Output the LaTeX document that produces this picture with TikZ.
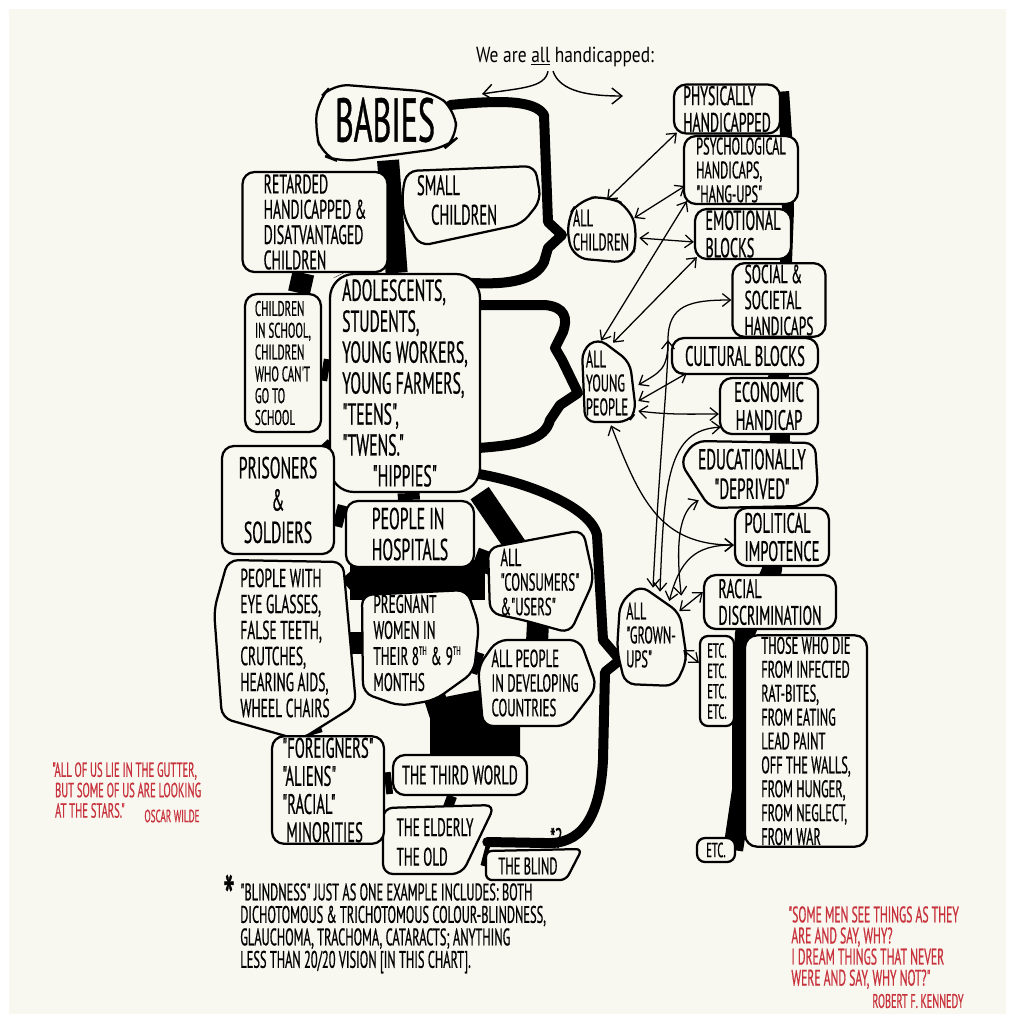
\documentclass[tikz,border=0pt]{standalone}
\usepackage{fontspec}
\setmainfont{PT Sans}
\newfontfamily\hand[FakeStretch=0.52,FakeBold=0.6]{PT Sans}
\newfontfamily\titlefont[FakeStretch=0.8]{PT Sans}
\usetikzlibrary{arrows.meta,calc}
\pgfdeclarelayer{bg}
\pgfdeclarelayer{trunklayer}
\pgfdeclarelayer{outl}
\pgfsetlayers{bg,trunklayer,outl,main}
\definecolor{cream}{RGB}{248,248,240}
\definecolor{quotered}{RGB}{200,50,60}
\newcommand\thsup{\raisebox{0.4em}{\fontsize{8.5}{8.5}\selectfont TH}}
\tikzset{
  cbox/.style={draw, line width=1.6pt, fill=cream, rounded corners=3mm, inner sep=1pt, align=left},
  tbox/.style={inner sep=1pt, align=left},
  outline/.style={draw, line width=1.6pt, fill=cream, rounded corners=2.5mm},
  sz/.style 2 args={minimum width=#1*0.25mm, minimum height=#2*0.25mm},
  fs/.style 2 args={font=\hand\fontsize{#1}{#2}\selectfont},
  trunkline/.style={line width=5.5mm, black},
  bracestyle/.style={line width=2.5mm, line join=round, line cap=round},
  spine/.style={line width=5mm, line join=round},
  arr/.style={line width=0.9pt, <->, >={Straight Barb[length=2mm,width=3.2mm]}},
  qt/.style={text=quotered, align=left, inner sep=0pt},
}
\begin{document}
\begin{tikzpicture}[x=0.25mm,y=-0.25mm]
\useasboundingbox (0,0) rectangle (1015,1023);
\begin{pgfonlayer}{bg}
  \fill[white] (0,0) rectangle (1015,1023);
  \fill[cream] (9,9) rectangle (1006,1014);
\end{pgfonlayer}

% title
\node[font=\titlefont\fontsize{15.5}{15.5}\selectfont, inner sep=0pt] (title) at (565,57) {We are \underline{all} handicapped:};
\coordinate (tl) at (482,94);
\coordinate (tr) at (623,96);
\draw[line width=1pt,-{Straight Barb[length=2.5mm,width=4mm]}] ($(title.south)+(-17,4)$) .. controls (545,88) and (520,88) .. (tl);
\draw[line width=1pt,-{Straight Barb[length=2.5mm,width=4mm]}] ($(title.south)+(-12,4)$) .. controls (560,92) and (590,96) .. (tr);

% left column
\node[tbox,sz={140}{80},fs={44}{44}] (babies) at (385,120) {BABIES};
\node[cbox,sz={145}{100},fs={19}{18}] (retarded) at (315,222) {RETARDED\\HANDICAPPED \&\\DISATVANTAGED\\CHILDREN};
\node[tbox,sz={110}{60},fs={20}{21}] (small) at (457,200) {SMALL\\\hspace{0.5em}CHILDREN};
\node[cbox,sz={76}{138},fs={15}{15.5}] (school) at (283,363) {CHILDREN\\IN SCHOOL,\\CHILDREN\\WHO CAN'T\\GO TO\\SCHOOL};
\node[cbox,sz={150}{218},fs={21.5}{22},rounded corners=6mm] (adolescents) at (405,383) {ADOLESCENTS,\\STUDENTS,\\YOUNG WORKERS,\\YOUNG FARMERS,\\"TEENS",\\"TWENS."\\\quad"HIPPIES"};
\node[cbox,sz={112}{108},fs={21.5}{23},align=center] (prisoners) at (278,500) {PRISONERS\\\&\\SOLDIERS};
\node[cbox,sz={128}{66},fs={21.5}{22}] (hospitals) at (410,534) {PEOPLE IN\\HOSPITALS};
\node[tbox,sz={96}{70},fs={17.5}{17.5}] (consumers) at (540,582) {ALL\\"CONSUMERS"\\\&"USERS"};
\node[tbox,sz={126}{150},fs={18.5}{18.5}] (eyeglasses) at (285,643) {PEOPLE WITH\\EYE GLASSES,\\FALSE TEETH,\\CRUTCHES,\\HEARING AIDS,\\WHEEL CHAIRS};
\node[tbox,sz={104}{96},fs={18}{18.5}] (pregnant) at (417,643) {PREGNANT\\WOMEN IN\\THEIR 8\thsup\,\&\,9\thsup\\MONTHS};
\node[tbox,sz={108}{70},fs={17.5}{17.5}] (developing) at (535,683) {ALL PEOPLE\\IN DEVELOPING\\COUNTRIES};
\node[cbox,sz={112}{104},fs={20}{20}] (foreigners) at (328,790) {"FOREIGNERS"\\"ALIENS"\\"RACIAL"\\\ MINORITIES};
\node[cbox,sz={134}{40},fs={19}{19}] (thirdworld) at (460,775) {THE THIRD WORLD};
\node[tbox,sz={96}{60},fs={18}{21}] (elderly) at (435,842) {THE ELDERLY\\THE OLD};
\node[tbox,sz={80}{22},fs={17}{17}] (blind) at (528,866) {THE BLIND};
\node[fs={20}{20},inner sep=0pt] (blindmark) at (556,838) {*?};

% right column
\node[tbox,sz={70}{64},fs={17}{17}] (allchildren) at (601,230) {ALL\\CHILDREN};
\node[cbox,sz={106}{48},fs={19}{19}] (physically) at (727,109) {PHYSICALLY\\HANDICAPPED};
\node[cbox,sz={114}{66},fs={17}{17}] (psych) at (741,170) {PSYCHOLOGICAL\\HANDICAPS,\\"HANG-UPS"};
\node[cbox,sz={96}{48},fs={19.5}{19.5}] (emotional) at (743,234) {EMOTIONAL\\BLOCKS};
\node[cbox,sz={93}{72},fs={18.5}{18.5}] (social) at (779,300) {SOCIAL \&\\SOCIETAL\\HANDICAPS};
\node[cbox,sz={146}{36},fs={20}{20}] (cultural) at (745,356) {CULTURAL BLOCKS};
\node[tbox,sz={52}{76},fs={17}{17}] (young) at (607,383) {ALL\\YOUNG\\PEOPLE};
\node[cbox,sz={98}{56},fs={20}{20},align=center] (economic) at (769,406) {ECONOMIC\\HANDICAP};
\node[tbox,sz={130}{60},fs={20.5}{21},align=center] (educational) at (752,474) {EDUCATIONALLY\\"DEPRIVED"};
\node[cbox,sz={94}{58},fs={20}{20}] (political) at (782,537) {POLITICAL\\IMPOTENCE};
\node[cbox,sz={132}{54},fs={19}{19}] (racial) at (770,602) {RACIAL\\DISCRIMINATION};
\node[tbox,sz={64}{90},fs={17}{17}] (grownups) at (651,635) {ALL\\"GROWN-\\UPS"};
\node[cbox,sz={34}{90},fs={14.5}{14.5},rounded corners=2mm] (etcfour) at (717,681) {ETC.\\ETC.\\ETC.\\ETC.};
\node[cbox,sz={122}{206},fs={17}{17}] (die) at (806,741) {THOSE WHO DIE\\FROM INFECTED\\RAT-BITES,\\FROM EATING\\LEAD PAINT\\OFF THE WALLS,\\FROM HUNGER,\\FROM NEGLECT,\\FROM WAR};
\node[cbox,sz={38}{24},fs={14.5}{14.5},rounded corners=2mm] (etc) at (716,850) {ETC.};

% quotes and footnote
\node[qt,fs={14.5}{14.5},anchor=north west] (wilde) at (52,762) {"ALL OF US LIE IN THE GUTTER,\\\ BUT SOME OF US ARE LOOKING\\\ AT THE STARS."};
\node[qt,fs={12.5}{12.5}] (wildename) at (172,816) {OSCAR WILDE};
\node[qt,fs={16}{15},anchor=north west] (kennedy) at (788,906) {"SOME MEN SEE THINGS AS THEY\\\ ARE AND SAY, WHY?\\\ I DREAM THINGS THAT NEVER\\\ WERE AND SAY, WHY NOT?"};
\node[qt,fs={14}{14}] (kennedyname) at (918,1001) {ROBERT F. KENNEDY};
\node[fs={17}{16},align=left,anchor=north west,inner sep=0pt] (footnote) at (240,883) {"BLINDNESS" JUST AS ONE EXAMPLE INCLUDES: BOTH\\DICHOTOMOUS \& TRICHOTOMOUS COLOUR-BLINDNESS,\\GLAUCHOMA, TRACHOMA, CATARACTS; ANYTHING\\LESS THAN 20/20 VISION [IN THIS CHART].};
\node[fs={44}{44},inner sep=0pt] (star) at (229,897) {*};

% irregular outlines
\begin{pgfonlayer}{outl}
  \draw[outline,rounded corners=4mm] (318,100) -- (333,84) -- (433,92) -- (455,110) -- (457,138) -- (445,148) -- (340,162) -- (322,155) -- (315,130) -- cycle;
  \draw[outline] (407,171) -- (535,166) -- (541,200) -- (522,224) -- (420,246) -- (404,218) -- (402,193) -- cycle;
  \draw[outline,rounded corners=4mm] (580,199) -- (607,196) -- (630,207) -- (638,237) -- (630,263) -- (572,258) -- (566,220) -- cycle;
  \draw[outline] (582,350) -- (598,338) -- (630,362) -- (636,412) -- (628,422) -- (585,422) -- cycle;
  \draw[outline] (488,548) -- (583,530) -- (594,580) -- (570,633) -- (523,620) -- (490,613) -- cycle;
  \draw[outline] (478,667) -- (497,640) -- (580,640) -- (597,687) -- (567,726) -- (483,726) -- cycle;
  \draw[outline] (362,595) -- (467,590) -- (479,625) -- (474,672) -- (435,700) -- (400,706) -- (363,693) -- cycle;
  \draw[outline] (228,560) -- (343,562) -- (356,705) -- (300,740) -- (222,718) -- (214,610) -- cycle;
  \draw[outline] (383,808) -- (495,805) -- (462,874) -- (383,874) -- cycle;
  \draw[outline,rounded corners=1.5mm] (486,851) -- (582,849) -- (566,880) -- (486,880) -- cycle;
  \draw[outline] (680,462) -- (695,441) -- (815,443) -- (818,490) -- (803,506) -- (710,508) -- cycle;
  \draw[outline] (620,603) -- (640,585) -- (680,613) -- (687,660) -- (675,686) -- (625,684) -- (617,650) -- cycle;
\end{pgfonlayer}

% thick black trunks and braces
\coordinate (cA) at (562,235);
\coordinate (cB) at (578,393);
\coordinate (cC) at (620,660);
\begin{pgfonlayer}{trunklayer}
  \draw[trunkline] (babies) -- (adolescents);
  \draw[trunkline] (retarded) -- (school);
  \draw[trunkline] (retarded) -- (adolescents);
  \draw[trunkline] (school) -- (adolescents);
  \draw[trunkline] (adolescents) -- (prisoners);
  \draw[trunkline] (adolescents) -- (hospitals);
  \draw[trunkline] (adolescents) -- (consumers);
  \draw[trunkline] (prisoners) -- (hospitals);
  \draw[trunkline] (hospitals) -- (eyeglasses);
  \draw[trunkline] (hospitals) -- (pregnant);
  \draw[trunkline] (hospitals) -- (consumers);
  \draw[trunkline] (eyeglasses) -- (pregnant);
  \draw[trunkline] (eyeglasses) -- (foreigners);
  \draw[trunkline] (pregnant) -- (thirdworld);
  \draw[trunkline] (pregnant) -- (developing);
  \draw[trunkline] (consumers) -- (developing);
  \draw[trunkline] (developing) -- (thirdworld);
  \draw[trunkline] (foreigners) -- (thirdworld);
  \draw[trunkline] (foreigners) -- (elderly);
  \draw[trunkline,line width=2.5mm] (thirdworld) -- (elderly);
  \draw[trunkline] (elderly) -- (blind);
  \fill (350,560) rectangle (485,600);
  \fill (430,700) -- (480,690) -- (520,720) -- (520,760) -- (430,760) -- cycle;
  % braces
  \draw[bracestyle] ($(babies.east)+(-5,-15)$) .. controls (500,100) and (535,100) .. (544,115) -- (548,222) -- (cA) -- (548,248) -- (544,262) .. controls (535,280) and (510,285) .. ($(adolescents.north east)+(-10,10)$);
  \draw[bracestyle] ($(adolescents.east)+(-3,-78)$) -- (545,305) .. controls (565,307) and (568,318) .. (563,332) -- (555,348) -- (562,360) -- (cB) -- (560,405) -- (550,420) .. controls (545,440) and (520,445) .. ($(adolescents.east)+(-3,65)$);
  \draw[bracestyle] ($(adolescents.south east)+(-8,-20)$) .. controls (520,480) and (590,505) .. (597,535) -- (603,640) -- (cC) -- (605,672) -- (603,760) .. controls (600,820) and (580,845) .. (545,843) -- ($(elderly.east)+(4,0)$);
  % right spine
  \draw[spine,line width=3mm] ($(physically.north east)+(2,8)$) -- (787,150) -- (788,210) -- (786,262) -- (790,330);
  \draw[spine] (790,330) -- (778,378) -- (780,438) -- (775,505) -- (772,570) -- (745,633) -- (742,700) -- (742,790) -- ($(etc.east)+(-3,0)$);
\end{pgfonlayer}

% thin arrows
\draw[arr] ($(allchildren.north)+(6,2)$) -- ($(physically.south west)+(4,-2)$);
\draw[arr] ($(allchildren.east)+(-2,-12)$) -- ($(psych.west)+(2,16)$);
\draw[arr] ($(allchildren.east)+(3,8)$) -- ($(emotional.west)+(0,8)$);
\draw[arr] ($(young.north)+(-6,-4)$) -- ($(psych.south west)+(4,-4)$);
\draw[arr] ($(young.north)+(6,-2)$) -- ($(emotional.south west)+(3,-3)$);
\draw[arr] ($(young.east)+(5,2)$) .. controls (660,372) and (668,370) .. (668,340) .. controls (668,305) and (690,300) .. (social.west);
\draw[arr] ($(young.east)+(5,18)$) -- ($(cultural.south west)+(16,-2)$);
\draw[arr] ($(young.east)+(5,28)$) .. controls (670,415) and (690,414) .. ($(economic.west)+(0,8)$);
\draw[arr] ($(young.south)+(4,4)$) .. controls (640,500) and (660,545) .. ($(political.west)+(0,8)$);
\draw[arr] ($(grownups.north)+(2,-2)$) .. controls (660,450) and (668,380) .. (668,340);
\draw[arr] ($(grownups.north)+(9,2)$) .. controls (664,480) and (668,430) .. ($(economic.south west)+(2,-8)$);
\draw[arr] ($(grownups.north east)+(-2,6)$) .. controls (675,540) and (680,510) .. ($(educational.south west)+(12,-4)$);
\draw[arr] ($(grownups.east)+(-14,-34)$) .. controls (680,560) and (695,545) .. ($(political.west)+(0,8)$);
\draw[arr] ($(grownups.east)+(-4,-24)$) -- ($(racial.west)+(0,-10)$);
\draw[arr] ($(grownups.east)+(0,15)$) -- ($(etcfour.west)+(0,-18)$);
\end{tikzpicture}
\end{document}
